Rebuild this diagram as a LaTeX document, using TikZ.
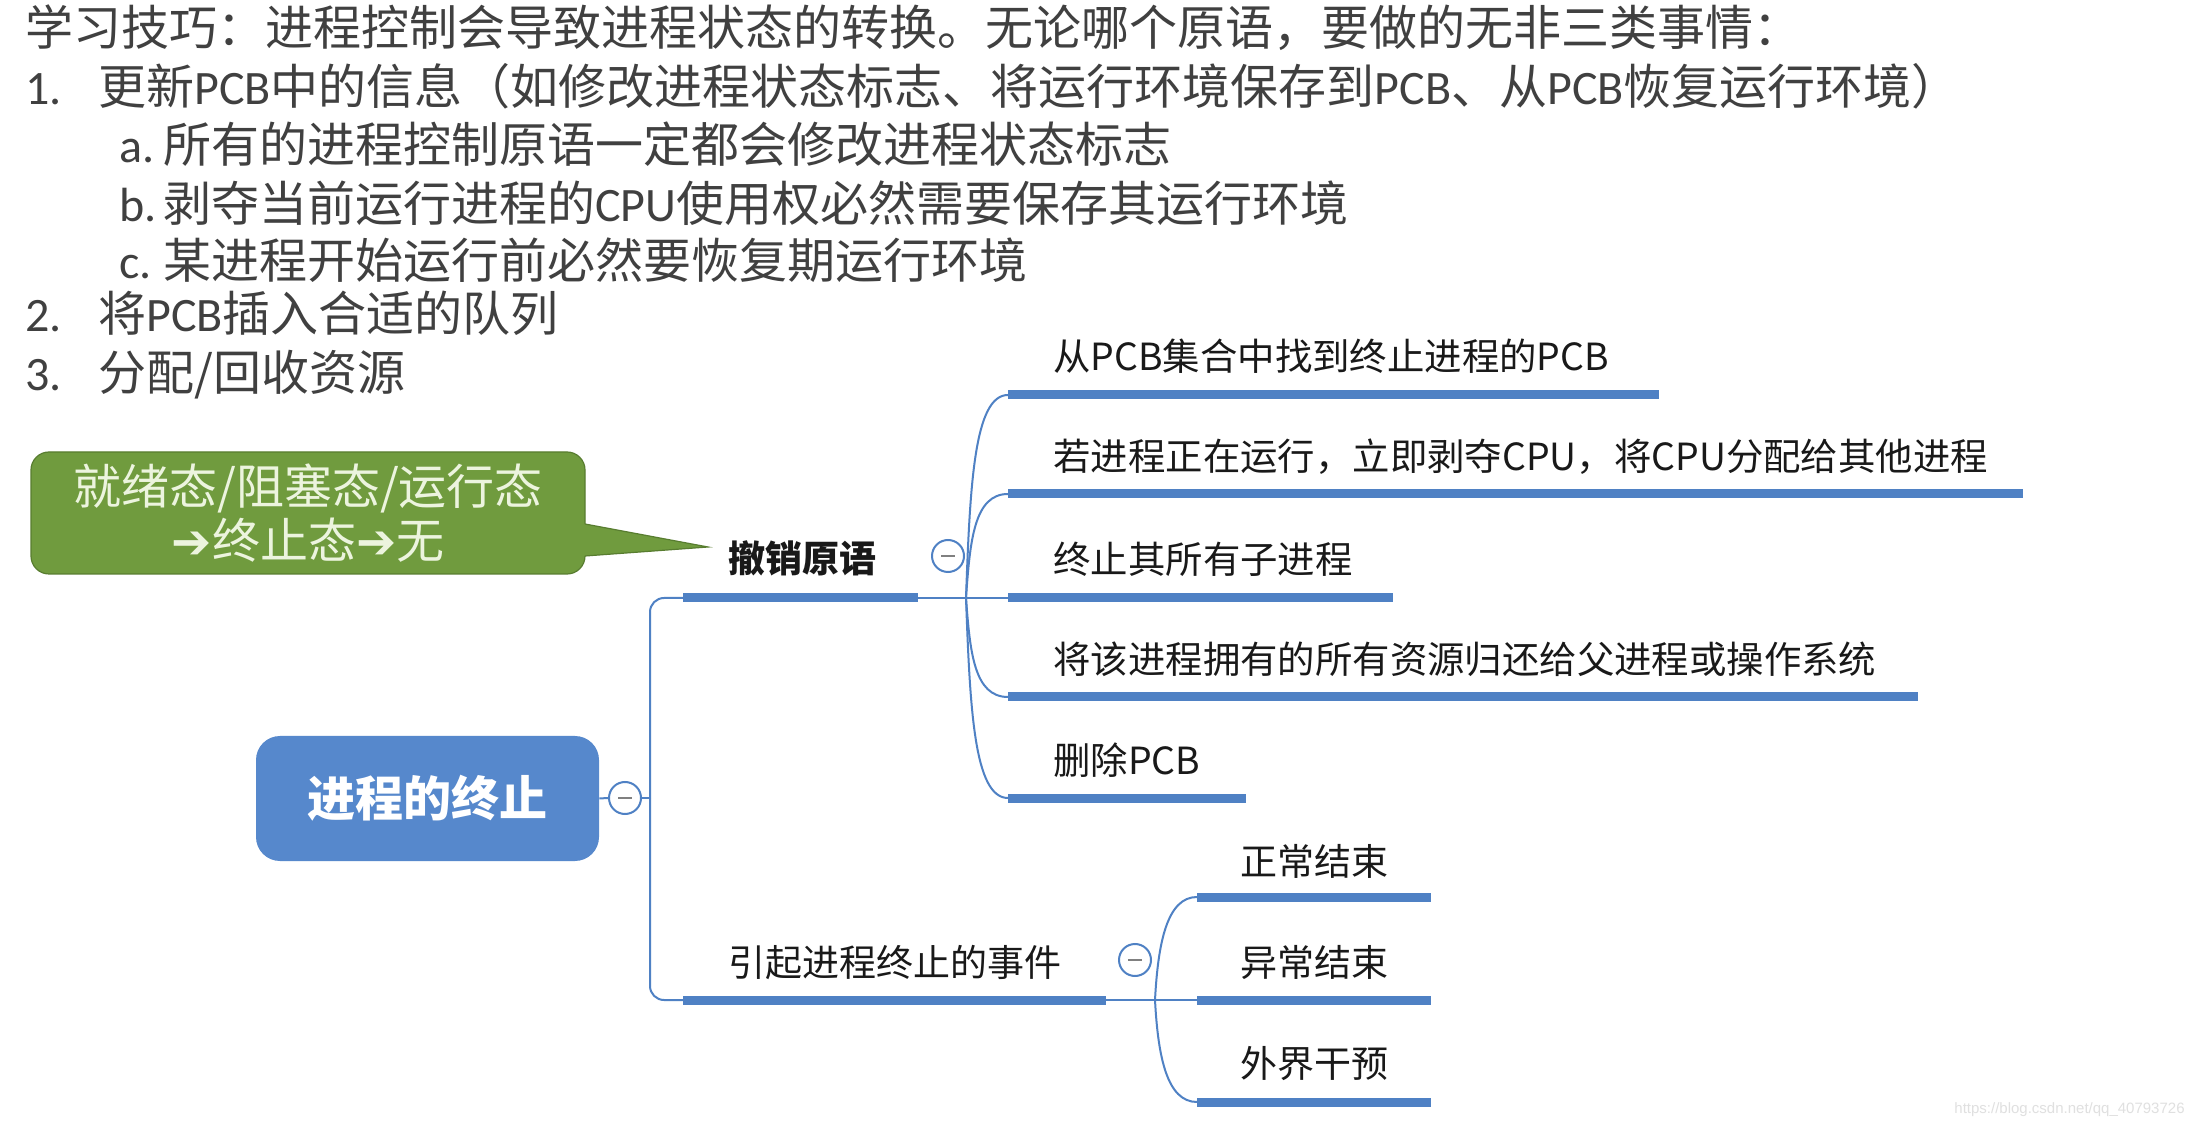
\documentclass[tikz,border=0pt]{standalone}
\usepackage{fontspec}
\setmainfont{Noto Sans CJK SC}
\newfontfamily\djv{DejaVu Sans}
\newfontfamily\lat{Carlito}
\newfontfamily\wmfont{Liberation Sans}
\definecolor{topgray}{RGB}{64,64,64}
\definecolor{mmblue}{RGB}{79,129,196}
\definecolor{rootblue}{RGB}{86,136,204}
\definecolor{calgreen}{RGB}{112,155,62}
\definecolor{calborder}{RGB}{88,125,48}
\definecolor{caltext}{RGB}{236,244,222}
\definecolor{mmtext}{RGB}{25,25,25}
\begin{document}
\begin{tikzpicture}[x=0.5pt,y=-0.5pt,
  toptext/.style={anchor=base west,inner sep=0pt,text=topgray,font=\fontsize{24}{28}\selectfont},
  bar/.style={draw=mmblue,line width=4.5pt},
  link/.style={draw=mmblue,line width=1pt},
  childA/.style={anchor=base west,inner sep=0pt,text=mmtext,font=\fontsize{18.7}{22}\selectfont},
  childB/.style={anchor=base west,inner sep=0pt,text=mmtext,font=\fontsize{18.5}{22}\selectfont},
  branchbold/.style={anchor=base west,inner sep=0pt,text=mmtext,font=\bfseries\fontsize{18.5}{22}\selectfont},
  rootnode/.style={rectangle,rounded corners=12pt,fill=rootblue,draw=none,text=white,
    minimum width=171.5pt,minimum height=62.5pt,inner sep=0pt,font=\bfseries\fontsize{24}{28}\selectfont},
  callout/.style={rectangle,rounded corners=9pt,fill=calgreen,draw=calborder,line width=0.6pt,text=caltext,
    minimum width=277pt,minimum height=61pt,inner sep=0pt,align=center,font=\fontsize{24}{27}\selectfont},
  toggle/.style={circle,draw=mmblue,fill=white,line width=1pt,minimum size=16pt,inner sep=0pt,
    path picture={\draw[gray,line width=1pt] ([xshift=-3.5pt]path picture bounding box.center) -- ([xshift=3.5pt]path picture bounding box.center);}}
]
\fill[white] (0,0) rectangle (2195,1127);
\useasboundingbox (0,0) rectangle (2195,1127);

% top text
\node[toptext] (t1) at (25,46) {学习技巧：进程控制会导致进程状态的转换。无论哪个原语，要做的无非三类事情：};
\node[toptext] (n1) at (25,105) {\lat 1.};
\node[toptext] (t2) at (98,105) {更新{\lat PCB}中的信息（如修改进程状态标志、将运行环境保存到{\lat PCB}、从{\lat PCB}恢复运行环境）};
\node[toptext] (na) at (119,163) {\lat a.};
\node[toptext] (ta) at (163,163) {所有的进程控制原语一定都会修改进程状态标志};
\node[toptext] (nb) at (119,222) {\lat b.};
\node[toptext] (tb) at (163,222) {剥夺当前运行进程的{\lat CPU}使用权必然需要保存其运行环境};
\node[toptext] (nc) at (119,279) {\lat c.};
\node[toptext] (tc) at (163,279) {某进程开始运行前必然要恢复期运行环境};
\node[toptext] (n2) at (25,332) {\lat 2.};
\node[toptext] (t3) at (98,332) {将{\lat PCB}插入合适的队列};
\node[toptext] (n3) at (25,391) {\lat 3.};
\node[toptext] (t4) at (98,391) {分配/回收资源};

% callout
\node[callout] (cal) at (308,513) {就绪态/阻塞态/运行态\\{\djv ➔}终止态{\djv ➔}无};
\coordinate (tip) at (708,547);
\fill[calgreen] (575,524) -- (585,524) -- (tip) -- (585,556) -- (575,556) -- cycle;
\draw[calborder,line width=0.6pt] (585,524) -- (tip) -- (585,556);

% root
\node[rootnode] (root) at (427.5,798.5) {进程的终止};
\node[toggle] (rt) at (625,798) {};
\coordinate (stem) at (650,798);
\coordinate (b1s) at (683,598); \coordinate (b1e) at (918,598);
\coordinate (b2s) at (683,1000); \coordinate (b2e) at (1106,1000);
\draw[link] (root.east) -- (rt.west);
\draw[link] (rt.east) -- (stem);
\draw[link,rounded corners=7pt] (stem) |- (b1s);
\draw[link,rounded corners=7pt] (stem) |- (b2s);
\draw[bar] (b1s) -- (b1e);
\draw[bar] (b2s) -- (b2e);
\node[branchbold] (br1) at (728,573) {撤销原语};
\node[childB] (br2) at (728,976) {引起进程终止的事件};
\node[toggle] (tg1) at (948,556) {};
\node[toggle] (tg2) at (1135,960) {};

% branch 1 children
\coordinate (f1) at (966,598);
\coordinate (c1s) at (1008,395); \coordinate (c1e) at (1659,395);
\coordinate (c2s) at (1008,494); \coordinate (c2e) at (2023,494);
\coordinate (c3s) at (1008,598); \coordinate (c3e) at (1393,598);
\coordinate (c4s) at (1008,697); \coordinate (c4e) at (1918,697);
\coordinate (c5s) at (1008,798); \coordinate (c5e) at (1246,798);
\draw[link] (b1e) -- (c3s);
\draw[link] (f1) .. controls +(4,-112) and +(-34,0) .. (c1s);
\draw[link] (f1) .. controls +(4,-57) and +(-34,0) .. (c2s);
\draw[link] (f1) .. controls +(4,54) and +(-34,0) .. (c4s);
\draw[link] (f1) .. controls +(4,110) and +(-34,0) .. (c5s);
\draw[bar] (c1s) -- (c1e);
\draw[bar] (c2s) -- (c2e);
\draw[bar] (c3s) -- (c3e);
\draw[bar] (c4s) -- (c4e);
\draw[bar] (c5s) -- (c5e);
\node[childA] (k1) at (1053,371) {从PCB集合中找到终止进程的PCB};
\node[childA] (k2) at (1053,471) {若进程正在运行，立即剥夺CPU，将CPU分配给其他进程};
\node[childA] (k3) at (1053,574) {终止其所有子进程};
\node[childA] (k4) at (1053,674) {将该进程拥有的所有资源归还给父进程或操作系统};
\node[childA] (k5) at (1053,775) {删除PCB};

% branch 2 children
\coordinate (f2) at (1155,1000);
\coordinate (d1s) at (1197,897); \coordinate (d1e) at (1431,897);
\coordinate (d2s) at (1197,1000); \coordinate (d2e) at (1431,1000);
\coordinate (d3s) at (1197,1102); \coordinate (d3e) at (1431,1102);
\draw[link] (b2e) -- (d2s);
\draw[link] (f2) .. controls +(3,-57) and +(-30,0) .. (d1s);
\draw[link] (f2) .. controls +(3,57) and +(-30,0) .. (d3s);
\draw[bar] (d1s) -- (d1e);
\draw[bar] (d2s) -- (d2e);
\draw[bar] (d3s) -- (d3e);
\node[childB] (e1) at (1240,875) {正常结束};
\node[childB] (e2) at (1240,976) {异常结束};
\node[childB] (e3) at (1240,1077) {外界干预};

% watermark
\node[anchor=east,inner sep=0pt,text=black!12,font={\wmfont\fontsize{7.5}{9}\selectfont}] (wm) at (2185,1110) {https://blog.csdn.net/qq\_40793726};
\end{tikzpicture}
\end{document}
